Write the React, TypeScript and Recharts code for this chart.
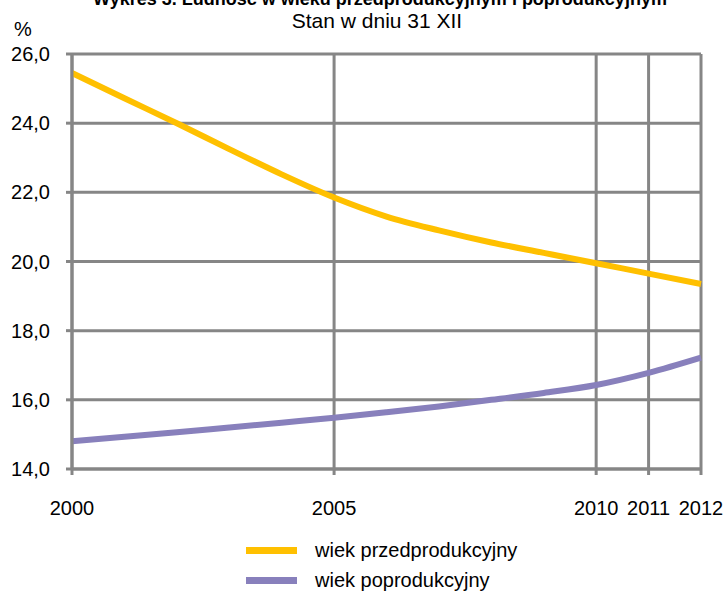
import { LineChart, Line, XAxis, YAxis, CartesianGrid, Legend } from 'recharts'

const years = [2000, 2001, 2002, 2003, 2004, 2005, 2006, 2007, 2008, 2009, 2010, 2011, 2012]
const przedprodukcyjny = [25.45, 24.72, 24.0, 23.25, 22.52, 21.85, 21.3, 20.9, 20.55, 20.25, 19.95, 19.65, 19.35]
const poprodukcyjny = [14.8, 14.93, 15.06, 15.2, 15.34, 15.48, 15.64, 15.81, 16.0, 16.2, 16.43, 16.78, 17.22]
const xTicks = [2000, 2005, 2010, 2011, 2012]
const yTicks = [14, 16, 18, 20, 22, 24, 26]

const data = years.map((year, i) => ({
  year,
  przed: przedprodukcyjny[i],
  po: poprodukcyjny[i],
}))

const FONT = '"Liberation Sans", Arial, sans-serif'
const GRID = '#868686'

const SERIES = [
  { key: 'przed', name: 'wiek przedprodukcyjny', color: '#FFC000' },
  { key: 'po', name: 'wiek poprodukcyjny', color: '#8880BC' },
]

function LegendBox() {
  return (
    <div style={{ fontFamily: FONT, fontSize: 20, color: '#000' }}>
      {SERIES.map((s) => (
        <div key={s.key} style={{ display: 'flex', alignItems: 'center', height: 30 }}>
          <div style={{ width: 51, height: 7, background: s.color, marginRight: 18 }} />
          <span>{s.name}</span>
        </div>
      ))}
    </div>
  )
}

export default function App() {
  return (
    <div style={{ position: 'absolute', left: 0, top: 0, width: 728, height: 592, background: '#fff', overflow: 'hidden' }}>
      <svg width={728} height={44} style={{ position: 'absolute', left: 0, top: 0 }}>
        <text x={380} y={5} textAnchor="middle" fontFamily={FONT} fontSize={18} fontWeight="bold" fill="#000">
          Wykres 3. Ludność w wieku przedprodukcyjnym i poprodukcyjnym
        </text>
        <text x={377} y={28} textAnchor="middle" fontFamily={FONT} fontSize={21} fill="#000">
          Stan w dniu 31 XII
        </text>
        <text x={23} y={36} textAnchor="middle" fontFamily={FONT} fontSize={20} fill="#000">
          %
        </text>
      </svg>
      <LineChart
        width={728}
        height={592}
        data={data}
        margin={{ top: 54, right: 27, left: 0, bottom: 13 }}
      >
        <CartesianGrid stroke={GRID} strokeWidth={3} horizontal vertical />
        <XAxis
          dataKey="year"
          type="number"
          domain={[2000, 2012]}
          ticks={xTicks}
          interval={0}
          height={50}
          tickSize={6}
          tickMargin={26}
          axisLine={{ stroke: GRID, strokeWidth: 3 }}
          tickLine={{ stroke: GRID, strokeWidth: 3 }}
          tick={{ fill: '#000', fontSize: 20, fontFamily: FONT }}
        />
        <YAxis
          domain={[14, 26]}
          ticks={yTicks}
          interval={0}
          width={72}
          tickSize={6}
          tickMargin={16}
          axisLine={{ stroke: GRID, strokeWidth: 3 }}
          tickLine={{ stroke: GRID, strokeWidth: 3 }}
          tick={{ fill: '#000', fontSize: 20, fontFamily: FONT }}
          tickFormatter={(v: number) => v.toFixed(1).replace('.', ',')}
        />
        <Legend
          content={<LegendBox />}
          wrapperStyle={{ position: 'absolute', left: 246, top: 535, width: 320 }}
        />
        {SERIES.map((s) => (
          <Line
            key={s.key}
            type="monotone"
            dataKey={s.key}
            name={s.name}
            stroke={s.color}
            strokeWidth={6}
            dot={false}
            activeDot={false}
            isAnimationActive={false}
          />
        ))}
      </LineChart>
    </div>
  )
}
